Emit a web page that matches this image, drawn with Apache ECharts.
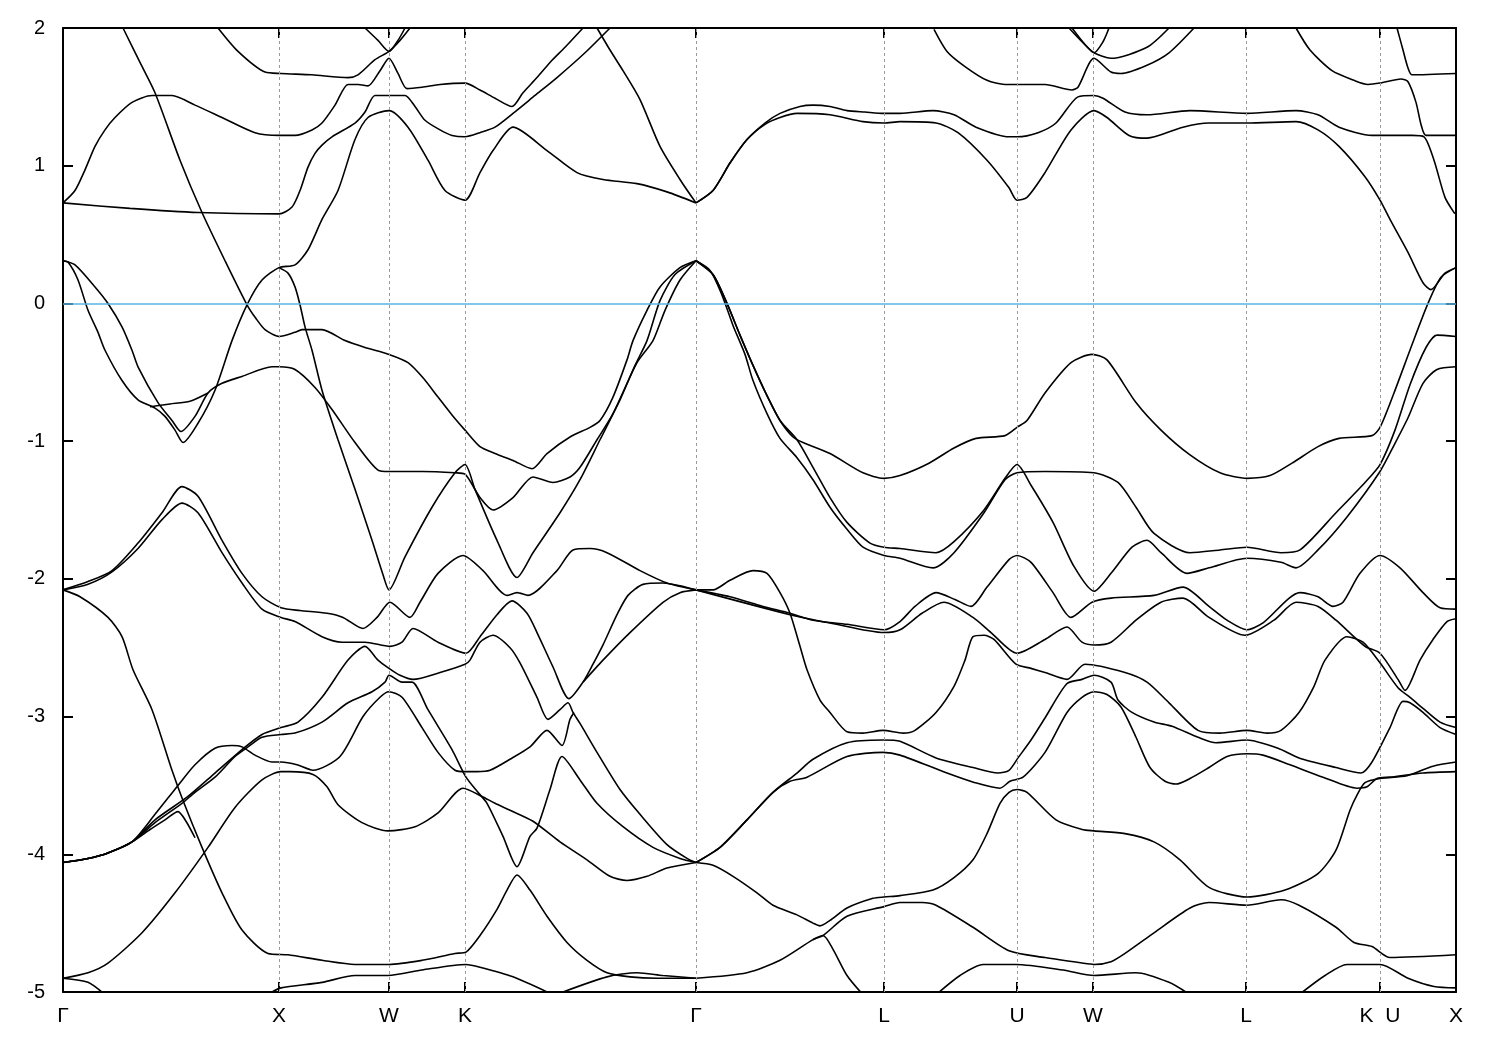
<!DOCTYPE html>
<html>
<head>
<meta charset="utf-8">
<script src="https://cdn.jsdelivr.net/npm/echarts@6/dist/echarts.min.js"></script>
<style>html,body{margin:0;padding:0;background:#fff;}#c{width:1500px;height:1050px;}</style>
</head>
<body>
<div id="c"></div>
<script>
// k-path positions of the high-symmetry points and their labels
const hsPos = [0, 216, 326, 402, 633, 821, 954, 1030, 1183, 1317, 1393];
const hsNames = ['Γ', 'X', 'W', 'K', 'Γ', 'L', 'U', 'W', 'L', 'K  U', 'X'];
const gridPos = [216, 326, 402, 633, 821, 954, 1030, 1183, 1317];
const yTicks = [-5, -4, -3, -2, -1, 0, 1, 2];

// band lines: k positions and energies (eV)
const topT_k = [155,175,202,218,249,285,295,312,326,337,347];
const topT_E = [2.00,1.83,1.68,1.67,1.66,1.64,1.66,1.77,1.83,1.91,2.00];
const topV_k = [302,315,326,335,342];
const topV_E = [2.00,1.91,1.83,1.91,2.00];
const c2_k = [0,12,22,32,42,52,69,89,109,132,159,192,216,232,249,259,272,285,295,305,317,326,335,344,359,377,402,417,432,449,460,474,487,502,520];
const c2_E = [0.73,0.82,0.97,1.14,1.26,1.35,1.46,1.51,1.51,1.44,1.35,1.24,1.22,1.22,1.26,1.31,1.44,1.59,1.59,1.58,1.69,1.78,1.67,1.56,1.57,1.59,1.60,1.55,1.49,1.43,1.53,1.64,1.75,1.86,2.00];
const c1_k = [0,67,135,216,229,237,245,252,259,269,292,302,312,327,342,352,362,377,389,402,417,432,450,472,494,522,547];
const c1_E = [0.73,0.69,0.66,0.65,0.70,0.82,0.99,1.09,1.15,1.21,1.31,1.39,1.51,1.51,1.51,1.43,1.33,1.26,1.22,1.21,1.24,1.28,1.38,1.51,1.64,1.82,2.00];
const p_k = [0,5,15,25,35,42,59,75,92,102,112,120,135,152,169,184,199,216,232,245,259,275,292,305,326,345,365,382,402,417,430,450,484,514,540,574,604,633];
const p_E = [0.31,0.30,0.17,-0.05,-0.21,-0.34,-0.56,-0.70,-0.76,-0.82,-0.92,-1.01,-0.87,-0.63,-0.27,-0.01,0.17,0.26,0.28,0.39,0.61,0.82,1.19,1.35,1.40,1.28,1.04,0.82,0.75,0.95,1.11,1.28,1.11,0.95,0.90,0.87,0.81,0.73];
const q_k = [0,12,32,45,59,69,75,95,109,118,132,145,159,179,209,216,232,252,269,292,315,326,359,392,402,417,430,450,470,490,507,517,534,550,574,590,602,617,633];
const q_E = [0.31,0.28,0.12,0.00,-0.17,-0.34,-0.46,-0.72,-0.85,-0.93,-0.82,-0.65,-0.58,-0.53,-0.46,-0.46,-0.48,-0.61,-0.77,-1.01,-1.21,-1.22,-1.22,-1.23,-1.24,-1.41,-1.50,-1.41,-1.26,-1.30,-1.26,-1.19,-0.99,-0.80,-0.43,-0.27,-0.05,0.17,0.31];
const f_k = [87,107,127,145];
const f_E = [-0.75,-0.73,-0.71,-0.65];
const a_k = [60,77,92,117,139,162,184,193,202,216,232,239,249,259,282,302,326,345,360,375,389,402,417,432,450,469,484,507,527,537,550,564,570,584,597,617,633];
const a_E = [2.00,1.75,1.53,1.04,0.66,0.31,-0.01,-0.11,-0.19,-0.24,-0.21,-0.19,-0.19,-0.19,-0.27,-0.32,-0.37,-0.43,-0.54,-0.68,-0.81,-0.92,-1.04,-1.09,-1.14,-1.20,-1.09,-0.97,-0.90,-0.85,-0.68,-0.41,-0.27,-0.05,0.12,0.26,0.31];
const s_k = [216,225,232,237,242,249,259,275,292,309,320,326,342,369,392,402,412,434,454,470,497,517,537,557,572,584,597,612,633];
const s_E = [0.26,0.22,0.12,-0.01,-0.17,-0.34,-0.63,-0.99,-1.35,-1.72,-1.97,-2.08,-1.84,-1.48,-1.23,-1.17,-1.35,-1.72,-1.99,-1.81,-1.52,-1.28,-0.99,-0.70,-0.45,-0.27,0.02,0.21,0.31];
const kt_k = [534,547,560,577,597,617,633];
const kt_E = [2.00,1.84,1.69,1.48,1.14,0.90,0.73];
const l1u_k = [0,25,49,75,99,119,135,159,179,199,218,237,264,280,300,314,327,347,357,375,400,420,444,454,465,494,510,527,544,577,604,633];
const l1u_E = [-2.08,-2.02,-1.94,-1.74,-1.52,-1.33,-1.40,-1.72,-1.96,-2.13,-2.21,-2.23,-2.25,-2.28,-2.36,-2.28,-2.17,-2.28,-2.17,-1.96,-1.83,-1.94,-2.12,-2.10,-2.12,-1.94,-1.79,-1.78,-1.81,-1.94,-2.03,-2.08];
const l1l_k = [0,25,49,75,99,119,135,159,179,199,218,232,259,279,302,327,339,350,375,403,417,434,449,464,474,490,506,520,530,540,554,565,580,600,617,633];
const l1l_E = [-2.08,-2.04,-1.95,-1.78,-1.57,-1.45,-1.52,-1.81,-2.03,-2.22,-2.28,-2.31,-2.42,-2.46,-2.46,-2.49,-2.46,-2.36,-2.46,-2.54,-2.42,-2.26,-2.16,-2.25,-2.39,-2.64,-2.87,-2.75,-2.62,-2.48,-2.26,-2.12,-2.04,-2.03,-2.05,-2.08];
const br_k = [520,540,567,600,617,633];
const br_E = [-2.75,-2.59,-2.39,-2.17,-2.10,-2.08];
const st_k = [0,17,45,59,70,89,109,120,139,159,179,205,225,259,292,326,359,392,403,417,434,444,454,467,484,504,524,544,567,594,633];
const st_E = [-2.08,-2.13,-2.28,-2.42,-2.66,-2.95,-3.39,-3.61,-3.95,-4.28,-4.55,-4.72,-4.73,-4.77,-4.80,-4.80,-4.77,-4.72,-4.71,-4.59,-4.40,-4.26,-4.15,-4.26,-4.45,-4.64,-4.77,-4.86,-4.89,-4.90,-4.90];
const pk_k = [0,25,45,69,87,102,115,123,132];
const pk_E = [-4.06,-4.03,-3.99,-3.91,-3.82,-3.75,-3.69,-3.76,-3.88];
const g3_k = [0,25,45,69,92,125,152,179,199,218,235,259,285,302,315,326,337,350,377,402,407,417,430,447,457,474,485,497,505,510,517,534,557,577,604,624,633];
const g3_E = [-4.06,-4.03,-3.99,-3.91,-3.75,-3.58,-3.41,-3.24,-3.13,-3.08,-3.04,-2.86,-2.59,-2.49,-2.59,-2.65,-2.70,-2.73,-2.68,-2.62,-2.59,-2.46,-2.41,-2.50,-2.61,-2.86,-3.02,-2.95,-2.90,-2.97,-3.05,-3.26,-3.53,-3.71,-3.93,-4.03,-4.06];
const g2_k = [0,25,45,69,92,119,132,152,172,185,199,218,232,259,285,309,322,326,339,349,365,389,403,415,424,440,454,467,474,487,499,517,534,560,590,617,633];
const g2_E = [-4.06,-4.03,-3.99,-3.91,-3.77,-3.63,-3.55,-3.44,-3.29,-3.22,-3.15,-3.13,-3.12,-3.04,-2.90,-2.82,-2.75,-2.70,-2.75,-2.75,-2.95,-3.24,-3.44,-3.55,-3.63,-3.87,-4.09,-3.87,-3.81,-3.53,-3.29,-3.46,-3.63,-3.80,-3.95,-4.03,-4.06];
const g1_k = [0,25,45,69,92,115,132,152,169,179,192,209,218,234,250,277,300,317,326,339,359,375,392,403,414,427,447,467,484,499,507,511];
const g1_E = [-4.06,-4.03,-3.99,-3.91,-3.71,-3.50,-3.35,-3.23,-3.21,-3.22,-3.28,-3.33,-3.33,-3.35,-3.39,-3.29,-3.00,-2.86,-2.82,-2.86,-3.08,-3.26,-3.39,-3.40,-3.40,-3.39,-3.31,-3.22,-3.10,-3.21,-3.02,-2.97];
const b_k = [0,25,45,79,112,145,172,199,218,227,250,264,275,299,325,352,375,400,419,432,447,470,497,524,547,564,584,604,633];
const b_E = [-4.90,-4.86,-4.79,-4.57,-4.28,-3.95,-3.66,-3.46,-3.40,-3.40,-3.42,-3.51,-3.64,-3.77,-3.83,-3.80,-3.70,-3.52,-3.58,-3.63,-3.68,-3.76,-3.91,-4.04,-4.16,-4.19,-4.16,-4.10,-4.06];
const gd_k = [0,25,42];
const gd_E = [-4.90,-4.93,-5.02];
const bx_k = [209,218,259,292,325,359,403,417,450,484];
const bx_E = [-5.00,-4.97,-4.93,-4.88,-4.88,-4.84,-4.80,-4.82,-4.89,-5.00];
const bg_k = [500,544,574,600,633];
const bg_E = [-5.00,-4.89,-4.86,-4.88,-4.90];
const ru1_k = [633,650,667,684,702,717,737,750,767,784,802,821,837,870,891,913,946,954,975,993,1015,1031,1040,1062,1084,1127,1184,1233,1255,1276,1309,1317,1349,1361,1371,1382,1391,1393];
const ru1_E = [0.73,0.82,1.02,1.19,1.31,1.38,1.43,1.44,1.43,1.40,1.39,1.38,1.38,1.40,1.37,1.28,1.21,1.21,1.24,1.31,1.50,1.51,1.49,1.39,1.37,1.40,1.38,1.40,1.37,1.28,1.22,1.22,1.22,1.21,1.04,0.77,0.66,0.65];
const ru2_k = [633,650,667,684,702,717,734,767,800,821,837,873,895,924,946,954,964,982,1008,1031,1044,1066,1084,1120,1146,1184,1233,1255,1276,1302,1317,1327,1345,1360,1368,1382,1393];
const ru2_E = [0.73,0.82,1.02,1.19,1.30,1.35,1.38,1.37,1.32,1.31,1.32,1.31,1.24,1.04,0.84,0.75,0.77,0.95,1.26,1.40,1.35,1.22,1.20,1.28,1.31,1.31,1.32,1.26,1.14,0.92,0.75,0.61,0.37,0.15,0.10,0.22,0.26];
const tu_k = [871,884,902,924,942,982,1009,1015,1031,1048,1058,1084,1106,1131];
const tu_E = [1.99,1.83,1.72,1.62,1.59,1.59,1.55,1.57,1.78,1.68,1.67,1.73,1.82,2.00];
const wv1_k = [1006,1019,1031,1048,1084,1106];
const wv1_E = [2.00,1.90,1.82,1.78,1.86,2.00];
const wv2_k = [1009,1022,1031,1040,1046];
const wv2_E = [2.00,1.88,1.82,1.90,2.00];
const tr_k = [1233,1247,1269,1291,1305,1317,1338,1345,1353,1358,1363,1393];
const tr_E = [2.00,1.84,1.69,1.62,1.59,1.60,1.63,1.61,1.46,1.30,1.22,1.22];
const ts_k = [1334,1340,1345,1349,1393];
const ts_E = [2.00,1.84,1.71,1.66,1.67];
const ga_k = [633,650,664,677,690,704,717,730,740,767,800,821,837,866,891,913,942,954,964,982,1008,1029,1044,1073,1098,1127,1157,1184,1207,1229,1255,1276,1309,1317,1331,1349,1365,1378,1393];
const ga_E = [0.31,0.21,0.00,-0.23,-0.45,-0.67,-0.85,-0.97,-1.01,-1.09,-1.23,-1.27,-1.25,-1.16,-1.05,-0.98,-0.96,-0.90,-0.85,-0.65,-0.43,-0.37,-0.41,-0.72,-0.92,-1.10,-1.23,-1.27,-1.25,-1.16,-1.04,-0.98,-0.96,-0.90,-0.65,-0.30,0.00,0.19,0.26];
const m1_k = [633,650,664,677,690,704,717,734,750,767,784,807,821,837,873,891,921,942,954,968,990,1011,1031,1048,1069,1084,1098,1124,1146,1184,1218,1233,1255,1284,1317,1331,1345,1360,1374,1393];
const m1_E = [0.31,0.21,0.00,-0.23,-0.45,-0.67,-0.85,-0.99,-1.19,-1.41,-1.59,-1.74,-1.77,-1.78,-1.81,-1.73,-1.50,-1.27,-1.17,-1.32,-1.59,-1.91,-2.09,-1.96,-1.77,-1.72,-1.81,-1.96,-1.92,-1.85,-1.88,-1.92,-1.79,-1.55,-1.22,-1.03,-0.83,-0.58,-0.48,-0.46];
const m2_k = [633,647,659,670,682,690,704,717,734,750,767,784,800,821,837,870,891,921,942,954,982,1031,1055,1073,1091,1127,1157,1184,1218,1237,1273,1302,1317,1332,1347,1363,1374,1393];
const m2_E = [0.31,0.24,0.06,-0.16,-0.37,-0.56,-0.80,-0.98,-1.12,-1.28,-1.48,-1.64,-1.77,-1.83,-1.85,-1.92,-1.81,-1.52,-1.28,-1.23,-1.22,-1.23,-1.30,-1.48,-1.67,-1.81,-1.79,-1.77,-1.81,-1.79,-1.52,-1.30,-1.17,-0.92,-0.59,-0.32,-0.23,-0.24];
const r1_k = [633,650,667,690,704,717,727,737,744,757,767,784,800,820,840,852,873,891,902,910,921,931,953,968,982,1004,1022,1062,1084,1106,1135,1157,1184,1204,1218,1236,1251,1262,1284,1300,1317,1335,1347,1360,1377,1393];
const r1_E = [-2.08,-2.08,-2.01,-1.94,-1.96,-2.10,-2.25,-2.49,-2.66,-2.88,-2.97,-3.11,-3.12,-3.10,-3.12,-3.10,-2.97,-2.78,-2.59,-2.42,-2.41,-2.44,-2.62,-2.65,-2.68,-2.73,-2.62,-2.68,-2.75,-2.90,-3.10,-3.12,-3.10,-3.12,-3.10,-2.97,-2.78,-2.59,-2.42,-2.46,-2.61,-2.79,-2.86,-2.94,-3.04,-3.08];
const r2a_k = [633,667,700,727,750,784,821,837,852,873,892,908,924,946,954,968,990,1008,1029,1048,1091,1120,1146,1164,1184,1200,1237,1255,1270,1280,1297,1317,1337,1360,1377,1393];
const r2a_E = [-2.08,-2.13,-2.20,-2.25,-2.30,-2.33,-2.37,-2.31,-2.20,-2.10,-2.15,-2.20,-2.06,-1.86,-1.83,-1.88,-2.10,-2.28,-2.17,-2.14,-2.12,-2.06,-2.20,-2.30,-2.37,-2.32,-2.10,-2.13,-2.20,-2.17,-1.96,-1.83,-1.92,-2.10,-2.21,-2.22];
const r2b_k = [633,727,767,821,837,859,881,910,928,954,982,1004,1019,1031,1048,1073,1098,1120,1146,1182,1211,1233,1255,1273,1302,1317,1335,1342,1357,1370,1384,1393];
const r2b_E = [-2.08,-2.26,-2.32,-2.39,-2.37,-2.25,-2.17,-2.28,-2.39,-2.54,-2.44,-2.35,-2.46,-2.48,-2.46,-2.30,-2.17,-2.14,-2.28,-2.41,-2.30,-2.17,-2.20,-2.30,-2.49,-2.54,-2.73,-2.81,-2.59,-2.44,-2.31,-2.29];
const h1_k = [633,657,684,710,734,750,784,820,837,873,910,935,946,955,968,982,1004,1019,1031,1048,1055,1069,1091,1109,1135,1153,1184,1215,1236,1273,1298,1309,1327,1340,1347,1360,1377,1393];
const h1_E = [-4.06,-3.95,-3.75,-3.55,-3.41,-3.31,-3.19,-3.17,-3.18,-3.30,-3.37,-3.41,-3.39,-3.30,-3.17,-3.01,-2.76,-2.73,-2.70,-2.75,-2.88,-2.97,-3.04,-3.07,-3.15,-3.19,-3.17,-3.23,-3.30,-3.37,-3.41,-3.33,-3.08,-2.89,-2.90,-2.97,-3.08,-3.13];
const h2_k = [633,657,684,710,727,744,784,820,837,884,912,937,947,960,982,1004,1019,1031,1044,1058,1073,1087,1102,1113,1127,1146,1164,1184,1200,1227,1260,1294,1304,1314,1327,1360,1393];
const h2_E = [-4.06,-3.95,-3.75,-3.55,-3.47,-3.44,-3.29,-3.26,-3.28,-3.41,-3.48,-3.52,-3.47,-3.44,-3.26,-2.97,-2.86,-2.82,-2.84,-2.93,-3.15,-3.37,-3.47,-3.49,-3.45,-3.37,-3.29,-3.27,-3.28,-3.35,-3.44,-3.52,-3.51,-3.45,-3.44,-3.41,-3.40];
const n1_k = [633,650,670,694,710,734,750,757,767,784,810,821,837,870,891,910,924,937,946,954,964,993,1019,1031,1062,1091,1117,1146,1184,1222,1255,1273,1287,1294,1302,1317,1344,1370,1393];
const n1_E = [-4.06,-4.08,-4.16,-4.28,-4.37,-4.44,-4.50,-4.52,-4.48,-4.39,-4.32,-4.31,-4.30,-4.26,-4.17,-4.04,-3.85,-3.63,-3.55,-3.53,-3.55,-3.75,-3.82,-3.83,-3.85,-3.91,-4.04,-4.24,-4.31,-4.26,-4.14,-3.97,-3.68,-3.57,-3.48,-3.45,-3.43,-3.36,-3.33];
const n2_k = [633,684,717,750,760,784,821,837,859,873,910,946,982,1019,1031,1048,1062,1091,1127,1146,1184,1218,1236,1273,1291,1309,1327,1393];
const n2_E = [-4.90,-4.86,-4.77,-4.62,-4.59,-4.45,-4.38,-4.35,-4.35,-4.37,-4.53,-4.70,-4.75,-4.79,-4.80,-4.78,-4.72,-4.57,-4.39,-4.35,-4.37,-4.33,-4.37,-4.53,-4.64,-4.67,-4.75,-4.73];
const n3_k = [750,760,770,784,800];
const n3_E = [-4.62,-4.59,-4.69,-4.88,-5.02];
const bm_k = [873,897,920,953,1000,1031,1073,1106,1127];
const bm_E = [-5.02,-4.88,-4.80,-4.80,-4.84,-4.88,-4.86,-4.93,-5.02];
const br2_k = [1236,1262,1284,1317,1345,1371,1393];
const br2_E = [-5.02,-4.88,-4.80,-4.80,-4.90,-4.96,-4.97];

const bands = [
  [topT_k, topT_E], [topV_k, topV_E], [c2_k, c2_E], [c1_k, c1_E], [p_k, p_E], [q_k, q_E],
  [f_k, f_E], [a_k, a_E], [s_k, s_E], [kt_k, kt_E], [l1u_k, l1u_E], [l1l_k, l1l_E],
  [br_k, br_E], [st_k, st_E], [pk_k, pk_E], [g3_k, g3_E], [g2_k, g2_E], [g1_k, g1_E],
  [b_k, b_E], [gd_k, gd_E], [bx_k, bx_E], [bg_k, bg_E], [ru1_k, ru1_E], [ru2_k, ru2_E],
  [tu_k, tu_E], [wv1_k, wv1_E], [wv2_k, wv2_E], [tr_k, tr_E], [ts_k, ts_E], [ga_k, ga_E],
  [m1_k, m1_E], [m2_k, m2_E], [r1_k, r1_E], [r2a_k, r2a_E], [r2b_k, r2b_E], [h1_k, h1_E],
  [h2_k, h2_E], [n1_k, n1_E], [n2_k, n2_E], [n3_k, n3_E], [bm_k, bm_E], [br2_k, br2_E]
];

const zip = (k, e) => k.slice(0, Math.min(k.length, e.length)).map((v, i) => [v, e[i]]);
const nameAt = {};
hsPos.forEach((p, i) => { nameAt[p] = hsNames[i]; });

const series = bands.map((b, i) => ({
  type: 'line',
  name: 'band' + i,
  data: zip(b[0], b[1]),
  showSymbol: false,
  symbol: 'none',
  smooth: 0.25,
  clip: true,
  z: 3,
  lineStyle: { color: '#000', width: 1.6 },
  silent: true
}));

series.push({
  type: 'line', name: 'grid', data: [], z: 1, silent: true,
  markLine: {
    silent: true, symbol: 'none', label: { show: false }, animation: false,
    lineStyle: { color: '#9a9a9a', type: [3, 3], width: 1 },
    data: gridPos.map(v => ({ xAxis: v }))
  }
});
series.push({
  type: 'line', name: 'fermi', data: [], z: 5, silent: true,
  markLine: {
    silent: true, symbol: 'none', label: { show: false }, animation: false,
    lineStyle: { color: '#56b4e9', type: 'solid', width: 1.6 },
    data: [{ yAxis: 0 }]
  }
});

const axisLineStyle = { show: true, onZero: false, lineStyle: { color: '#000', width: 2 } };
const chart = echarts.init(document.getElementById('c'), null, { renderer: 'canvas' });
chart.setOption({
  animation: false,
  backgroundColor: '#fff',
  grid: { left: 63, right: 44, top: 28, bottom: 58, containLabel: false },
  xAxis: [
    {
      type: 'value', min: 0, max: 1393, position: 'bottom',
      axisLine: axisLineStyle,
      axisTick: { show: true, inside: true, length: 10, customValues: hsPos, lineStyle: { color: '#000', width: 2 } },
      axisLabel: {
        show: true, customValues: hsPos, margin: 14, color: '#000', fontSize: 21,
        fontFamily: 'Liberation Sans, Arial, sans-serif', showMinLabel: true, showMaxLabel: true,
        formatter: v => nameAt[v] !== undefined ? nameAt[v] : ''
      },
      splitLine: { show: false }
    },
    {
      type: 'value', min: 0, max: 1393, position: 'top',
      axisLine: axisLineStyle,
      axisTick: { show: true, inside: true, length: 10, customValues: hsPos, lineStyle: { color: '#000', width: 2 } },
      axisLabel: { show: false },
      splitLine: { show: false }
    }
  ],
  yAxis: [
    {
      type: 'value', min: -5, max: 2, interval: 1, position: 'left',
      axisLine: axisLineStyle,
      axisTick: { show: true, inside: true, length: 10, lineStyle: { color: '#000', width: 2 } },
      axisLabel: { show: true, margin: 18, color: '#000', fontSize: 20, fontFamily: 'Liberation Sans, Arial, sans-serif' },
      splitLine: { show: false }
    },
    {
      type: 'value', min: -5, max: 2, interval: 1, position: 'right',
      axisLine: axisLineStyle,
      axisTick: { show: true, inside: true, length: 10, lineStyle: { color: '#000', width: 2 } },
      axisLabel: { show: false },
      splitLine: { show: false }
    }
  ],
  series: series
});
</script>
</body>
</html>
